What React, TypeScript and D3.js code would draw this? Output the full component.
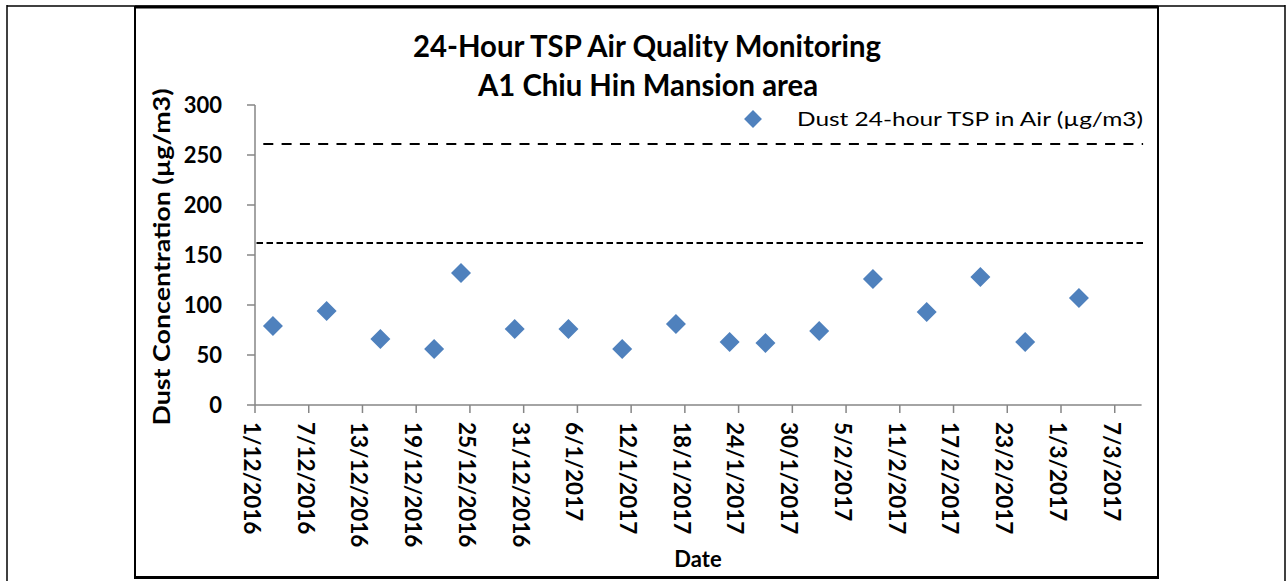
import React from "react";
import * as d3 from "d3";

// sample dates and 24-hour TSP results
const sampleDates = [
  "2016-12-03", "2016-12-09", "2016-12-15", "2016-12-21", "2016-12-24",
  "2016-12-30", "2017-01-05", "2017-01-11", "2017-01-17", "2017-01-23",
  "2017-01-27", "2017-02-02", "2017-02-08", "2017-02-14", "2017-02-20",
  "2017-02-25", "2017-03-03",
];
const tspValues = [79, 94, 66, 56, 132, 76, 76, 56, 81, 63, 62, 74, 126, 93, 128, 63, 107];

// action / limit levels
const actionLevel = 162;
const limitLevel = 261;

const yTicks = [0, 50, 100, 150, 200, 250, 300];
const axisStart = "2016-12-01";
const axisEnd = "2017-03-10";
const tickStepDays = 6;
const tickCount = 17;

const titleLines = ["24-Hour TSP Air Quality Monitoring", "A1 Chiu Hin Mansion area"];
const legendLabel = "Dust 24-hour TSP in Air (\u00b5g/m3)";

const parse = d3.utcParse("%Y-%m-%d");
const fmt = d3.utcFormat("%-d/%-m/%Y");

export default function App() {
  const width = 1288;
  const height = 581;
  const margin = { left: 255, right: 1141.6, top: 105, bottom: 405 };

  const x = d3
    .scaleUtc()
    .domain([parse(axisStart)!, parse(axisEnd)!])
    .range([margin.left, margin.right]);
  const y = d3.scaleLinear().domain([0, 300]).range([margin.bottom, margin.top]);

  const xTicks = d3
    .range(tickCount)
    .map((i) => d3.utcDay.offset(parse(axisStart)!, i * tickStepDays));

  const diamond = d3.symbol(d3.symbolSquare, 200)()!;
  const legendDiamond = d3.symbol(d3.symbolSquare, 160)()!;
  const font = "Lato, 'Open Sans', sans-serif";
  const axisColor = "#868686";

  return (
    <svg
      width={width}
      height={height}
      style={{ position: "absolute", left: 0, top: 0, background: "#fff" }}
      fontFamily={font}
    >
      {/* surrounding table cell */}
      <line x1={7} x2={7} y1={5} y2={height} stroke="#000" strokeWidth={1.5} />
      <line x1={1285} x2={1285} y1={5} y2={height} stroke="#000" strokeWidth={1.5} />
      <line x1={7} x2={1285} y1={6} y2={6} stroke="#000" strokeWidth={1.5} />

      {/* chart frame */}
      <line x1={135} x2={1158} y1={7} y2={7} stroke="#000" strokeWidth={3} />
      <line x1={135} x2={1158} y1={577.5} y2={577.5} stroke="#000" strokeWidth={3} />
      <line x1={135} x2={135} y1={6} y2={579} stroke="#000" strokeWidth={2} />
      <line x1={1158} x2={1158} y1={6} y2={579} stroke="#000" strokeWidth={2} />

      {/* title */}
      <g fontWeight="bold" fontSize={31} textAnchor="middle" fill="#000">
        <text x={647} y={57} textLength={468} lengthAdjust="spacingAndGlyphs">
          {titleLines[0]}
        </text>
        <text x={648} y={96} textLength={340} lengthAdjust="spacingAndGlyphs">
          {titleLines[1]}
        </text>
      </g>

      {/* level lines */}
      <line
        x1={x.range()[0]}
        x2={x.range()[1] + 1.5}
        y1={y(limitLevel)}
        y2={y(limitLevel)}
        stroke="#000"
        strokeWidth={2}
        strokeDasharray="10,8.3"
        strokeDashoffset={10}
      />
      <line
        x1={x.range()[0] + 1.5}
        x2={x.range()[1] + 1.5}
        y1={y(actionLevel)}
        y2={y(actionLevel)}
        stroke="#000"
        strokeWidth={2}
        strokeDasharray="6.5,3.5"
      />

      {/* y axis */}
      <line x1={margin.left} x2={margin.left} y1={y(300)} y2={y(0)} stroke={axisColor} strokeWidth={1.5} />
      {yTicks.map((t) => (
        <g key={t}>
          <line x1={margin.left - 8} x2={margin.left} y1={y(t)} y2={y(t)} stroke={axisColor} strokeWidth={1.5} />
          <text
            x={222}
            y={y(t)}
            dy="0.36em"
            textAnchor="end"
            fontWeight="bold"
            fontSize={22}
          >
            {t}
          </text>
        </g>
      ))}

      {/* x axis */}
      <line x1={margin.left} x2={margin.right} y1={y(0)} y2={y(0)} stroke={axisColor} strokeWidth={1.5} />
      {xTicks.map((d) => (
        <g key={+d}>
          <line x1={x(d)} x2={x(d)} y1={y(0)} y2={y(0) + 8} stroke={axisColor} strokeWidth={1.5} />
          <text
            transform={`translate(${x(d) - 3},422) rotate(90)`}
            dy="0.36em"
            textAnchor="start"
            fontWeight="bold"
            fontSize={22.5}
          >
            {fmt(d)}
          </text>
        </g>
      ))}

      {/* axis titles */}
      <text
        transform="translate(170,257) rotate(-90)"
        textAnchor="middle"
        fontWeight="bold"
        fontSize={22}
        textLength={337}
        lengthAdjust="spacingAndGlyphs"
      >
        Dust Concentration ({"\u00b5"}g/m3)
      </text>
      <text x={698} y={567} textAnchor="middle" fontWeight="bold" fontSize={22}>
        Date
      </text>

      {/* data points */}
      {sampleDates.map((d, i) => (
        <path
          key={d}
          d={diamond}
          transform={`translate(${x(parse(d)!)},${y(tspValues[i])}) rotate(45)`}
          fill="#4F81BD"
        />
      ))}

      {/* legend */}
      <path d={legendDiamond} transform="translate(753,119) rotate(45)" fill="#4F81BD" />
      <text x={797} y={126} fontSize={19} textLength={346} lengthAdjust="spacingAndGlyphs" fill="#000">
        {legendLabel}
      </text>
    </svg>
  );
}
